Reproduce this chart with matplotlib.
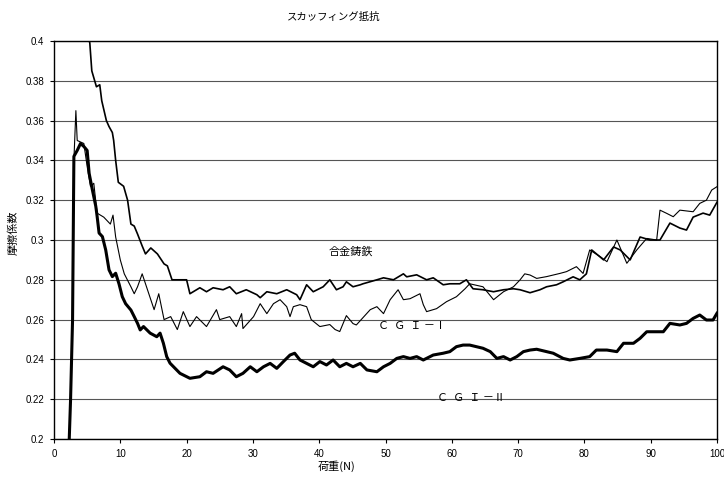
import matplotlib
matplotlib.use("Agg")
import matplotlib.pyplot as plt

plt.rcParams['font.family'] = ['Noto Sans CJK JP', 'DejaVu Sans']

title = "スカッフィング抵抗"
xlabel = "荷重(N)"
ylabel = "摩擦係数"

x_ticks = [0, 10, 20, 30, 40, 50, 60, 70, 80, 90, 100]
y_ticks = [0.2, 0.22, 0.24, 0.26, 0.28, 0.3, 0.32, 0.34, 0.36, 0.38, 0.4]
y_ticklabels = ["0.2", "0.22", "0.24", "0.26", "0.28", "0.3", "0.32", "0.34", "0.36", "0.38", "0.4"]

# 合金鋳鉄
alloy_x = [5.1, 5.4, 5.7, 6.4, 6.9, 7.2, 7.9, 8.3, 8.8, 9.0, 9.3, 9.7, 10.5, 11.1, 11.6, 12.1, 12.6,
           13.3, 13.8, 14.6, 15.6, 16.6, 17.1, 17.8, 19.1, 20.0, 20.5, 22.0, 23.0, 24.0, 25.5, 26.5,
           27.5, 29.0, 30.6, 31.1, 32.1, 33.6, 35.1, 36.6, 37.1, 38.1, 39.1, 40.6, 41.6, 42.6, 43.6,
           44.1, 45.1, 46.2, 46.6, 48.7, 49.7, 51.2, 52.7, 53.2, 54.7, 56.2, 57.2, 58.7, 59.7, 61.2,
           62.2, 63.2, 64.7, 66.3, 67.8, 69.3, 70.3, 71.8, 73.3, 74.3, 75.8, 76.8, 78.3, 79.3, 80.3,
           81.1, 82.9, 84.4, 85.4, 86.9, 88.4, 89.9, 91.4, 92.9, 94.4, 95.4, 96.4, 97.9, 98.9, 100.0]
alloy_y = [0.403, 0.399, 0.385, 0.377, 0.378, 0.370, 0.360, 0.357, 0.354, 0.350, 0.340, 0.329, 0.327,
           0.320, 0.308, 0.307, 0.303, 0.297, 0.293, 0.296, 0.293, 0.288, 0.287, 0.280, 0.280, 0.280,
           0.273, 0.276, 0.274, 0.276, 0.275, 0.2765, 0.273, 0.275, 0.2725, 0.271, 0.274, 0.273, 0.275,
           0.2725, 0.270, 0.2775, 0.274, 0.2765, 0.280, 0.275, 0.2765, 0.279, 0.2765, 0.2775, 0.278,
           0.280, 0.281, 0.280, 0.283, 0.2815, 0.2825, 0.280, 0.281, 0.2775, 0.278, 0.278, 0.280,
           0.2755, 0.275, 0.274, 0.275, 0.2755, 0.275, 0.2735, 0.275, 0.2765, 0.2775, 0.279, 0.2815,
           0.280, 0.283, 0.295, 0.290, 0.2965, 0.295, 0.290, 0.3015, 0.300, 0.300, 0.3085, 0.306,
           0.305, 0.3115, 0.3135, 0.3125, 0.319]

# CGI-I
cgi1_x = [3.0, 3.3, 3.5, 4.5, 5.0, 5.5, 6.0, 6.5, 7.5, 8.5, 8.9, 9.3, 10.0, 10.6, 11.6, 12.1, 12.6,
          13.3, 14.1, 15.1, 15.8, 16.6, 17.6, 18.6, 19.5, 20.5, 21.5, 23.0, 24.5, 25.0, 26.5, 27.5,
          28.3, 28.5, 30.1, 31.1, 32.1, 33.1, 34.1, 35.1, 35.6, 36.1, 37.1, 38.1, 38.8, 40.1, 41.6,
          42.4, 43.1, 44.1, 45.1, 45.6, 47.7, 48.7, 49.7, 50.7, 51.9, 52.7, 53.7, 55.2, 55.7, 56.2,
          57.7, 59.2, 60.7, 62.0, 62.7, 64.7, 66.3, 67.8, 69.3, 70.3, 71.0, 71.8, 72.8, 74.3, 75.3,
          76.3, 77.3, 78.8, 79.8, 80.8, 82.4, 83.4, 84.9, 86.4, 87.9, 89.4, 90.9, 91.4, 92.4, 93.4,
          94.4, 96.4, 97.4, 98.4, 99.2, 100.0]
cgi1_y = [0.340, 0.365, 0.350, 0.3485, 0.337, 0.327, 0.3285, 0.3135, 0.3115, 0.308, 0.3125, 0.3015,
          0.290, 0.283, 0.2765, 0.273, 0.2765, 0.283, 0.275, 0.265, 0.273, 0.260, 0.2615, 0.255,
          0.264, 0.2565, 0.2615, 0.2565, 0.265, 0.260, 0.2615, 0.2565, 0.263, 0.2555, 0.2615, 0.268,
          0.263, 0.268, 0.270, 0.2665, 0.2615, 0.2665, 0.2675, 0.2665, 0.260, 0.2565, 0.2575, 0.255,
          0.254, 0.262, 0.258, 0.2573, 0.265, 0.2665, 0.263, 0.270, 0.275, 0.270, 0.2705, 0.273,
          0.2675, 0.264, 0.2655, 0.269, 0.2715, 0.2755, 0.278, 0.2765, 0.270, 0.274, 0.2765, 0.280,
          0.283, 0.2824, 0.2807, 0.2816, 0.2824, 0.2832, 0.2841, 0.2866, 0.2832, 0.295, 0.2916,
          0.2891, 0.300, 0.2883, 0.295, 0.3008, 0.300, 0.315, 0.3134, 0.3117, 0.315, 0.3142, 0.3184,
          0.320, 0.3251, 0.3268]

# CGI-II
cgi2_x = [2.3, 2.5, 2.8, 3.0, 3.5, 4.0, 4.5, 5.0, 5.3, 5.8, 6.3, 6.5, 6.8, 7.3, 7.8, 8.3, 8.8, 9.3,
          9.8, 10.3, 10.8, 11.6, 12.1, 12.6, 13.0, 13.5, 14.5, 15.5, 16.0, 16.5, 17.0, 17.5, 18.5,
          19.0, 20.5, 22.0, 23.0, 24.0, 25.5, 26.5, 27.5, 28.5, 29.6, 30.6, 31.6, 32.6, 33.6, 34.6,
          35.6, 36.3, 37.1, 38.1, 39.1, 40.1, 41.1, 42.1, 43.1, 44.1, 45.1, 46.2, 47.2, 48.7, 49.7,
          50.7, 51.7, 52.7, 53.7, 54.7, 55.7, 57.2, 58.7, 59.7, 60.7, 61.7, 62.7, 63.7, 64.7, 65.8,
          66.8, 67.8, 68.8, 69.8, 70.8, 71.8, 72.8, 74.3, 75.3, 76.8, 77.8, 79.3, 80.8, 81.8, 83.4,
          84.9, 85.9, 87.4, 88.4, 89.4, 90.4, 91.9, 92.9, 94.4, 95.4, 96.4, 97.4, 98.4, 99.4, 100.0]
cgi2_y = [0.200, 0.220, 0.260, 0.342, 0.345, 0.3485, 0.347, 0.345, 0.3335, 0.325, 0.317, 0.312,
          0.3035, 0.3017, 0.295, 0.285, 0.2816, 0.2833, 0.278, 0.2715, 0.268, 0.2648, 0.2615,
          0.2581, 0.2548, 0.2565, 0.2532, 0.2514, 0.2532, 0.2481, 0.2414, 0.2381, 0.2347, 0.233,
          0.2305, 0.2313, 0.2338, 0.233, 0.2363, 0.2347, 0.2313, 0.233, 0.2363, 0.2338, 0.2363,
          0.238, 0.2355, 0.2389, 0.2422, 0.2431, 0.2397, 0.238, 0.2363, 0.2389, 0.2372, 0.2397,
          0.2363, 0.238, 0.2363, 0.238, 0.2347, 0.2338, 0.2363, 0.238, 0.2405, 0.2414, 0.2405,
          0.2414, 0.2397, 0.2422, 0.2431, 0.2439, 0.2464, 0.2472, 0.2472, 0.2464, 0.2456, 0.2439,
          0.2405, 0.2414, 0.2397, 0.2414, 0.2439, 0.2447, 0.2451, 0.2439, 0.2431, 0.2405, 0.2397,
          0.2405, 0.2414, 0.2447, 0.2447, 0.2439, 0.2481, 0.2481, 0.2506, 0.2539, 0.2539, 0.2539,
          0.2581, 0.2573, 0.2581, 0.2606, 0.2623, 0.2598, 0.2598, 0.2632]

label_alloy = "合金鋳鉄"
label_cgi1 = "Ｃ  Ｇ  Ｉ －Ⅰ"
label_cgi2 = "Ｃ  Ｇ  Ｉ －Ⅱ"

fig = plt.figure(figsize=(7.24, 4.78), dpi=100)
ax = fig.add_axes([54 / 724, 1 - 439 / 478, (717 - 54) / 724, (439 - 41) / 478])

for y in y_ticks:
    ax.axhline(y, color="#555555", lw=0.8, zorder=1)

ax.plot(alloy_x, alloy_y, color="black", lw=1.2, zorder=3)
ax.plot(cgi1_x, cgi1_y, color="black", lw=0.8, zorder=3)
ax.plot(cgi2_x, cgi2_y, color="black", lw=2.2, zorder=3)

ax.set_xlim(0, 100)
ax.set_ylim(0.2, 0.4)
ax.set_xticks(x_ticks)
ax.set_xticklabels([str(v) for v in x_ticks], fontsize=7, family=['Liberation Sans'])
ax.set_yticks(y_ticks)
ax.set_yticklabels(y_ticklabels, fontsize=7, family=['Liberation Sans'])
ax.tick_params(axis='both', direction='out', length=3, width=0.8, pad=4)
for s in ax.spines.values():
    s.set_color("black")
    s.set_linewidth(1.0)

ax.text(44.8, 0.294, label_alloy, fontsize=8, ha="center", va="center", zorder=4)
ax.text(48.8, 0.2568, label_cgi1, fontsize=8, ha="left", va="center", zorder=4)
ax.text(57.7, 0.2206, label_cgi2, fontsize=8, ha="left", va="center", zorder=4)

fig.text(334 / 724, 1 - 17 / 478, title, fontsize=7.5, ha="center", va="center")
fig.text(337 / 724, 1 - 466 / 478, xlabel, fontsize=8, ha="center", va="center")
fig.text(13 / 724, 1 - 233 / 478, ylabel, fontsize=8, ha="center", va="center", rotation=90)

fig.savefig("out.png", dpi=100)
